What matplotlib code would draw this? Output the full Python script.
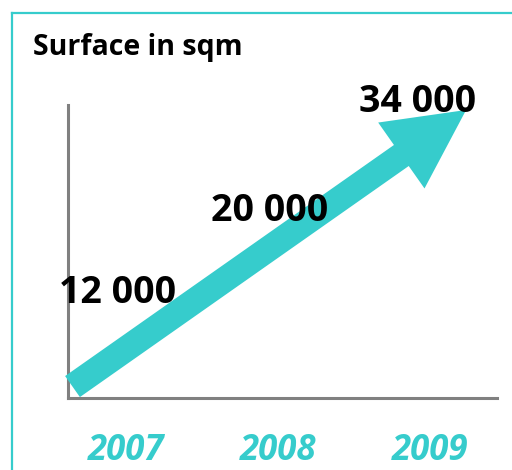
import matplotlib.pyplot as plt
from matplotlib.lines import Line2D
from matplotlib.patches import FancyArrowPatch

# datos
years = [2007, 2008, 2009]
surface = [12000, 20000, 34000]
value_labels = ['12 000', '20 000', '34 000']
title = 'Surface in sqm'

turquesa = '#36CCCC'
gris = '#808080'
fuente = 'Open Sans'

W, H = 512, 470
fig = plt.figure(figsize=(W / 100, H / 100), dpi=100)

# marco turquesa (solo arriba e izquierda, como en el original)
fig.add_artist(Line2D([12 / W, 1], [1 - 13 / H, 1 - 13 / H], color=turquesa, lw=1.6,
                      transform=fig.transFigure))
fig.add_artist(Line2D([12 / W, 12 / W], [0, 1 - 13 / H], color=turquesa, lw=1.6,
                      transform=fig.transFigure))

fig.text(33 / W, 1 - 47 / H, title, fontsize=20.5, fontweight='bold',
         family=fuente, va='center', ha='left')

ax = fig.add_axes([68 / W, 1 - 398 / H, (497 - 68) / W, (398 - 105) / H])
ax.set_xlim(2006.618, 2009.441)
ax.set_ylim(0, 33500)
for s in ['top', 'right']:
    ax.spines[s].set_visible(False)
for s in ['left', 'bottom']:
    ax.spines[s].set_color(gris)
    ax.spines[s].set_linewidth(2.2)
ax.set_yticks([])
ax.set_xticks(years)
ax.set_xticklabels([str(y) for y in years], fontsize=25, fontweight='bold',
                   style='italic', color=turquesa, family=fuente)
ax.tick_params(axis='x', length=0, pad=25)

# flecha de tendencia
flecha = FancyArrowPatch((0.0105, 0.039), (0.928, 0.983), transform=ax.transAxes,
                         arrowstyle='simple,head_length=57,head_width=58,tail_width=18.5',
                         mutation_scale=1, shrinkA=0, shrinkB=0, color=turquesa,
                         lw=0, zorder=3, clip_on=False)
ax.add_patch(flecha)

offsets = [(-6, 0), (-6, 9), (-9, -1)]
for x, v, lab, off in zip(years, surface, value_labels, offsets):
    ax.annotate(lab, (x, v), xytext=off, textcoords='offset points',
                ha='center', va='center', fontsize=27, fontweight='bold',
                family=fuente, zorder=5, annotation_clip=False)

fig.savefig('out.png', dpi=100)
